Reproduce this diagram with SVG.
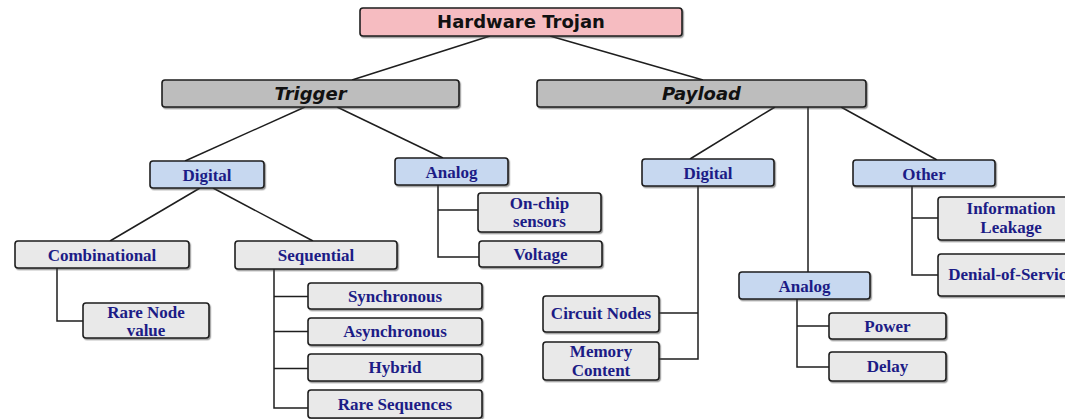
<svg xmlns="http://www.w3.org/2000/svg" width="1065" height="419" viewBox="0 0 1065 419">
<style>
.box{stroke:#1e1e1e;stroke-width:1.6;filter:url(#sh)}
.root{fill:#f6bcc1}
.main{fill:#bdbdbd}
.cat{fill:#c7d8f0}
.leaf{fill:#e9e9e9}
.t1{font-family:"DejaVu Sans",Verdana,sans-serif;font-weight:bold;font-size:18px;fill:#111;text-anchor:middle}
.t2{font-family:"DejaVu Sans",Verdana,sans-serif;font-weight:bold;font-style:italic;font-size:18px;fill:#111;text-anchor:middle}
.t3{font-family:"Liberation Serif","Times New Roman",serif;font-weight:bold;font-size:17px;fill:#1c1c86;text-anchor:middle}
.ln{fill:none;stroke:#1e1e1e;stroke-width:1.5}
</style>
<defs>
<filter id="sh" x="-5%" y="-20%" width="110%" height="150%">
<feDropShadow dx="1.2" dy="1.4" stdDeviation="0.7" flood-color="#444" flood-opacity="0.55"/>
</filter>
</defs>
<rect width="1065" height="419" fill="#ffffff"/>
<g id="connectors" class="ln">
<line x1="490" y1="36" x2="352" y2="80"/>
<line x1="550" y1="36" x2="703" y2="80"/>
<line x1="305" y1="107" x2="185" y2="161"/>
<line x1="337" y1="107" x2="443" y2="158"/>
<line x1="200" y1="188" x2="110" y2="241"/>
<line x1="213" y1="188" x2="313" y2="241"/>
<polyline points="57,268 57,321 83,321"/>
<polyline points="274,269 274,408 308,408"/>
<line x1="274" y1="296.5" x2="308" y2="296.5"/>
<line x1="274" y1="331.5" x2="308" y2="331.5"/>
<line x1="274" y1="368.5" x2="308" y2="368.5"/>
<polyline points="438,185 438,257 479,257"/>
<line x1="438" y1="210" x2="478" y2="210"/>
<line x1="775" y1="107" x2="690" y2="159"/>
<line x1="808" y1="107" x2="808" y2="272"/>
<line x1="841" y1="107" x2="937" y2="160"/>
<polyline points="698,186 698,359 659,359"/>
<line x1="698" y1="313" x2="659" y2="313"/>
<polyline points="797,299 797,367 829,367"/>
<line x1="797" y1="326" x2="829" y2="326"/>
<polyline points="912,186 912,275 938,275"/>
<line x1="912" y1="218" x2="938" y2="218"/>
</g>
<g id="hardware-trojan"><rect class="box root" x="360" y="8" width="322" height="28" rx="3"/><text class="t1" x="521" y="28">Hardware Trojan</text></g>
<g id="trigger"><rect class="box main" x="162" y="80" width="297" height="27" rx="3"/><text class="t2" x="310.5" y="100">Trigger</text></g>
<g id="payload"><rect class="box main" x="537" y="80" width="329" height="27" rx="3"/><text class="t2" x="701.5" y="100">Payload</text></g>
<g id="trigger-digital"><rect class="box cat" x="150" y="161" width="114" height="27" rx="3"/><text class="t3" x="207" y="180.5">Digital</text></g>
<g id="trigger-analog"><rect class="box cat" x="395" y="158" width="113" height="27" rx="3"/><text class="t3" x="451.5" y="177.5">Analog</text></g>
<g id="combinational"><rect class="box leaf" x="15" y="241" width="174" height="27" rx="3"/><text class="t3" x="102" y="260.5">Combinational</text></g>
<g id="sequential"><rect class="box leaf" x="235" y="241" width="162" height="28" rx="3"/><text class="t3" x="316" y="261">Sequential</text></g>
<g id="rare-node-value"><rect class="box leaf" x="83" y="303" width="126" height="35" rx="3"/><text class="t3" x="146" y="318">Rare Node</text><text class="t3" x="146" y="335.5">value</text></g>
<g id="on-chip-sensors"><rect class="box leaf" x="478" y="193" width="123" height="39" rx="3"/><text class="t3" x="539.5" y="209">On-chip</text><text class="t3" x="539.5" y="227">sensors</text></g>
<g id="voltage"><rect class="box leaf" x="479" y="241" width="123" height="26" rx="3"/><text class="t3" x="540.5" y="260">Voltage</text></g>
<g id="synchronous"><rect class="box leaf" x="308" y="283" width="174" height="26" rx="3"/><text class="t3" x="395" y="302">Synchronous</text></g>
<g id="asynchronous"><rect class="box leaf" x="308" y="318" width="174" height="27" rx="3"/><text class="t3" x="395" y="337">Asynchronous</text></g>
<g id="hybrid"><rect class="box leaf" x="308" y="354" width="174" height="27" rx="3"/><text class="t3" x="395" y="373">Hybrid</text></g>
<g id="rare-sequences"><rect class="box leaf" x="308" y="390" width="174" height="28" rx="3"/><text class="t3" x="395" y="410">Rare Sequences</text></g>
<g id="payload-digital"><rect class="box cat" x="642" y="159" width="132" height="27" rx="3"/><text class="t3" x="708" y="178.5">Digital</text></g>
<g id="other"><rect class="box cat" x="853" y="160" width="142" height="26" rx="3"/><text class="t3" x="924" y="179.5">Other</text></g>
<g id="information-leakage"><rect class="box leaf" x="938" y="197" width="147" height="43" rx="3"/><text class="t3" x="1011" y="214">Information</text><text class="t3" x="1011" y="233">Leakage</text></g>
<g id="denial-of-service"><rect class="box leaf" x="938" y="254" width="147" height="42" rx="3"/><text class="t3" x="1011" y="279.5">Denial-of-Service</text></g>
<g id="payload-analog"><rect class="box cat" x="739" y="272" width="131" height="27" rx="3"/><text class="t3" x="804.5" y="291.5">Analog</text></g>
<g id="power"><rect class="box leaf" x="829" y="313" width="117" height="26" rx="3"/><text class="t3" x="887.5" y="331.5">Power</text></g>
<g id="delay"><rect class="box leaf" x="829" y="352" width="117" height="29" rx="3"/><text class="t3" x="887.5" y="372">Delay</text></g>
<g id="circuit-nodes"><rect class="box leaf" x="543" y="296" width="116" height="36" rx="3"/><text class="t3" x="601" y="318.5">Circuit Nodes</text></g>
<g id="memory-content"><rect class="box leaf" x="543" y="342" width="116" height="38" rx="3"/><text class="t3" x="601" y="356.5">Memory</text><text class="t3" x="601" y="376">Content</text></g>
</svg>
